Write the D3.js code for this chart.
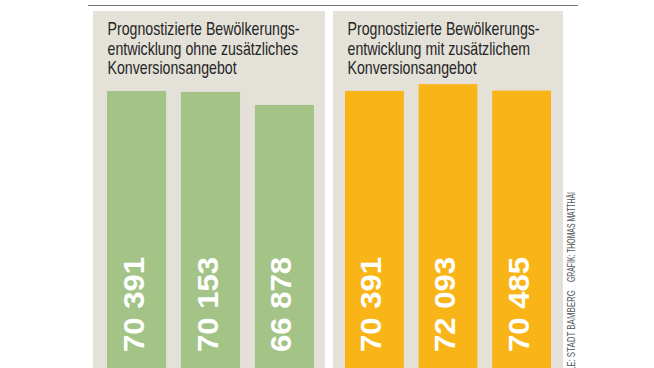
<!DOCTYPE html>
<html><head><meta charset="utf-8">
<script src="https://cdn.jsdelivr.net/npm/d3@7"></script>
<style>
html,body{margin:0;padding:0;background:#fff;}
svg{display:block;}
</style></head>
<body>
<svg id="chart" width="654" height="368"></svg>
<script>
// ---- data ----
const categories = ["Variante 1", "Variante 2", "Variante 3"];
const valuesOhne = [70391, 70153, 66878];
const valuesMit  = [70391, 72093, 70485];
const titleOhne = ["Prognostizierte Bewölkerungs-", "entwicklung ohne zusätzliches", "Konversionsangebot"];
const titleMit  = ["Prognostizierte Bewölkerungs-", "entwicklung mit zusätzlichem", "Konversionsangebot"];
const sourceText = "QUELLE: STADT BAMBERG";
const creditText = "GRAFIK: THOMAS MATTHÄI";

const panels = [
  {title: titleOhne, values: valuesOhne, color: "#a4c487", x0: 93, x1: 325, b0: 107, b1: 314},
  {title: titleMit,  values: valuesMit,  color: "#f9b418", x0: 333, x1: 563, b0: 345, b1: 551}
];

const W = 654, H = 368;
const svg = d3.select("#chart");
const fmt = d3.formatLocale({decimal: ",", thousands: " ", grouping: [3], currency: ["", "€"]}).format(",d");

// shared value scale (zero-based)
const y = d3.scaleLinear().domain([0, 70000]).range([371.5, 371.5 - 279]);

// top rule
svg.append("line").attr("x1", 88).attr("x2", 578).attr("y1", 5.5).attr("y2", 5.5)
  .attr("stroke", "#777").attr("stroke-width", 1);

panels.forEach(p => {
  const g = svg.append("g");
  g.append("rect").attr("x", p.x0).attr("y", 11).attr("width", p.x1 - p.x0).attr("height", H - 11)
    .attr("fill", "#e4e1d8");

  // title
  const tg = g.append("g").attr("transform", `translate(${p.x0 + 14.5},0)`);
  const lines = tg.selectAll("text").data(p.title).join("text")
    .attr("y", (d, i) => 35 + i * 19.7)
    .attr("font-family", "Liberation Sans, Arial, sans-serif")
    .attr("font-size", 17.8)
    .attr("fill", "#262626")
    .text(d => d);
  const w0 = lines.nodes()[0].getComputedTextLength();
  const sx = 192 / w0;
  lines.attr("transform", `scale(${sx},1)`);

  // bars
  const x = d3.scaleBand().domain(categories).range([p.b0, p.b1]).paddingInner(0.2).paddingOuter(0);
  g.selectAll("rect.bar").data(p.values).join("rect").attr("class", "bar")
    .attr("x", (d, i) => x(categories[i]))
    .attr("width", x.bandwidth())
    .attr("y", d => y(d))
    .attr("height", d => y(0) - y(d))
    .attr("fill", p.color);

  // value labels (rotated)
  const labels = g.selectAll("text.val").data(p.values).join("text").attr("class", "val")
    .attr("font-family", "Liberation Sans, Arial, sans-serif")
    .attr("font-weight", "bold")
    .attr("font-size", 29)
    .attr("fill", "#fff")
    .attr("text-anchor", "start")
    .text(d => fmt(d));
  const lw = labels.nodes()[0].getComputedTextLength();
  const lsx = 95 / lw;
  labels.attr("transform", (d, i) => {
    const cx = x(categories[i]) + x.bandwidth() / 2 + 7;
    return `translate(${cx},352) rotate(-90) scale(${lsx},1)`;
  });
});

// credits
const cred = svg.append("g").attr("font-family", "Liberation Sans, Arial, sans-serif")
  .attr("font-size", 10.5).attr("fill", "#555");
const c2 = cred.append("text").attr("text-anchor", "start").text(creditText);
const cw = c2.node().getComputedTextLength();
const csx = 90 / cw;
c2.attr("transform", `translate(574.5,282) rotate(-90) scale(${csx},1)`);
// source line: visible tail "E: STADT BAMBERG" spans ~77px in the reference
const tmp = cred.append("text").text(sourceText.slice(sourceText.indexOf("E:")));
const tailW = tmp.node().getComputedTextLength();
tmp.remove();
const ssx = 77 / tailW;
const c1 = cred.append("text").attr("text-anchor", "end").text(sourceText);
c1.attr("transform", `translate(574.5,290) rotate(-90) scale(${ssx},1)`);
</script>
</body></html>
